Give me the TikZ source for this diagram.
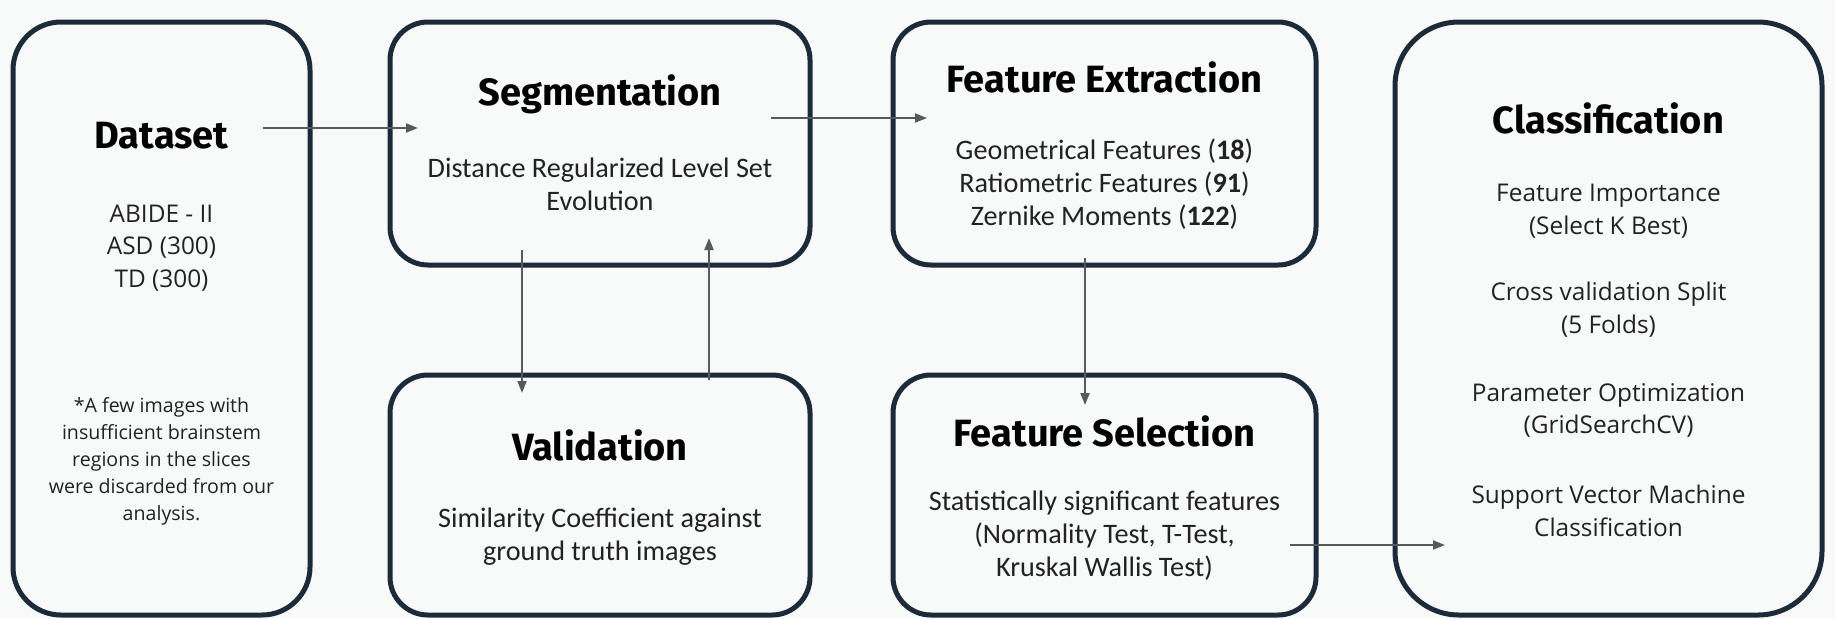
\documentclass[tikz,border=0pt]{standalone}
\usepackage{fontspec}
\setmainfont{Carlito}
\newfontfamily\ttlfont{Fira Sans}
\newfontfamily\sidefont{Open Sans}
\usetikzlibrary{arrows.meta}
\definecolor{bgc}{HTML}{F8F9F9}
\definecolor{navy}{HTML}{1C2B3A}
\definecolor{arrc}{HTML}{595959}
\definecolor{txt}{HTML}{222222}
\begin{document}
\begin{tikzpicture}[x=0.5pt,y=-0.5pt,
  box/.style={draw=navy, line width=2.5pt, rounded corners=19pt, inner sep=0pt},
  ttl/.style={font=\ttlfont\bfseries\fontsize{19}{23}\selectfont, text=black, inner sep=0pt},
  mid/.style={font=\fontsize{14.1}{16.5}\selectfont, align=center, text=txt, inner sep=0pt},
  side/.style={font=\sidefont\fontsize{12.2}{16.3}\selectfont, align=center, text=txt, inner sep=0pt},
  note/.style={font=\sidefont\fontsize{9.8}{13.5}\selectfont, align=center, text=txt, inner sep=0pt},
  arrow/.style={draw=arrc, line width=1pt, -{Triangle[length=6pt,width=4.5pt]}}
]
\fill[bgc] (0,0) rectangle (1835,618);
\useasboundingbox (0,0) rectangle (1835,618);

% boxes
\node[box, minimum width=148.5pt, minimum height=296.5pt, rounded corners=24pt] (ds) at (161.5,318.5) {};
\node[box, minimum width=210pt, minimum height=121.5pt] (sg) at (600,143.5) {};
\node[box, minimum width=210pt, minimum height=120pt] (va) at (600,495) {};
\node[box, minimum width=211.5pt, minimum height=121.5pt] (fe) at (1104.5,143.5) {};
\node[box, minimum width=211.5pt, minimum height=120pt] (fs) at (1104.5,495) {};
\node[box, minimum width=213.5pt, minimum height=296.5pt, rounded corners=32pt] (cl) at (1608.5,318.5) {};

% Dataset
\node[ttl] (dsT) at (161.5,136) {Dataset};
\node[side] (dsA) at (161.5,248) {ABIDE - II\\ASD (300)\\TD (300)};
\node[note] (dsN) at (161.5,461) {*A few images with\\insufficient brainstem\\regions in the slices\\were discarded from our\\analysis.};

% Segmentation
\node[ttl] (sgT) at (600,94) {Segmentation};
\node[mid] (sgB) at (600,184) {Distance Regularized Level Set\\Evolution};

% Validation
\node[ttl] (vaT) at (600,445) {Validation};
\node[mid] (vaB) at (600,537) {Similarity Coefficient against\\ground truth images};

% Feature Extraction
\node[ttl] (feT) at (1104.5,77) {Feature Extraction};
\node[mid] (feB) at (1104.5,184) {Geometrical Features (\textbf{18})\\Ratiometric Features (\textbf{91})\\Zernike Moments (\textbf{122})};

% Feature Selection
\node[ttl] (fsT) at (1104.5,431) {Feature Selection};
\node[mid] (fsB) at (1104.5,536) {Statistically significant features\\(Normality Test, T-Test,\\Kruskal Wallis Test)};

% Classification
\node[ttl] (clT) at (1608.5,118) {Classification};
\node[side] (clB1) at (1608.5,211) {Feature Importance\\(Select K Best)};
\node[side] (clB2) at (1608.5,309.5) {Cross validation Split\\(5 Folds)};
\node[side] (clB3) at (1608.5,410.5) {Parameter Optimization\\(GridSearchCV)};
\node[side] (clB4) at (1608.5,511) {Support Vector Machine\\Classification};

% arrow end points
\coordinate (a1s) at (263,128);  \coordinate (a1e) at (418,128);
\coordinate (a2s) at (771,118);  \coordinate (a2e) at (927,118);
\coordinate (a3s) at (522,250);  \coordinate (a3e) at (522,393);
\coordinate (a4s) at (709,380);  \coordinate (a4e) at (709,238);
\coordinate (a5s) at (1085,258); \coordinate (a5e) at (1085,405);
\coordinate (a6s) at (1290,545); \coordinate (a6e) at (1445,545);

\draw[arrow] (a1s) -- (a1e);
\draw[arrow] (a2s) -- (a2e);
\draw[arrow] (a3s) -- (a3e);
\draw[arrow] (a4s) -- (a4e);
\draw[arrow] (a5s) -- (a5e);
\draw[arrow] (a6s) -- (a6e);
\end{tikzpicture}
\end{document}
